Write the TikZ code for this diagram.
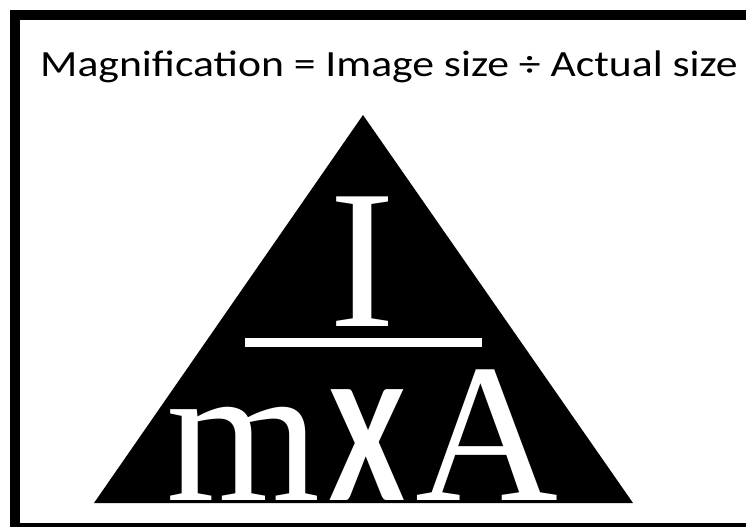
\documentclass[tikz,border=0pt]{standalone}
\usepackage{fontspec}
\usepackage{graphicx}
\setmainfont{Liberation Serif}
\newfontfamily\titlefont{Carlito}
\usetikzlibrary{positioning}

\begin{document}
\begin{tikzpicture}[x=1pt, y=-1pt, every node/.style={inner sep=0pt}]
	\tikzset{letter/.style={text=white, anchor=base, font=\fontsize{198}{198}\selectfont}}
	\useasboundingbox (0,0) rectangle (746,527);
	% frame
	\fill[black] (10,10) rectangle (746,527);
	\fill[white] (20,20) rectangle (746,523);
	\node[anchor=base, font=\titlefont\fontsize{37}{38}\selectfont] (title) at (389,76.5)
		{\scalebox{1.18}[1]{Magnification = Image size ÷ Actual size}};
	% triangle
	\coordinate (apex) at (363,115);
	\coordinate (bl) at (94,503);
	\coordinate (br) at (633,503);
	\fill[black] (bl) -- (apex) -- (br) -- cycle;
	\fill[white] (245,338) rectangle (482,347);
	\node[letter] (img) at (362.5,326) {I};
	\node[letter] (mag) at (244,500) {m};
	\node[letter, font=\titlefont\bfseries\fontsize{171}{171}\selectfont] (times) at (367,500) {\scalebox{0.8}[1]{X}};
	\node[letter] (act) at (486.5,500) {A};
\end{tikzpicture}
\end{document}
